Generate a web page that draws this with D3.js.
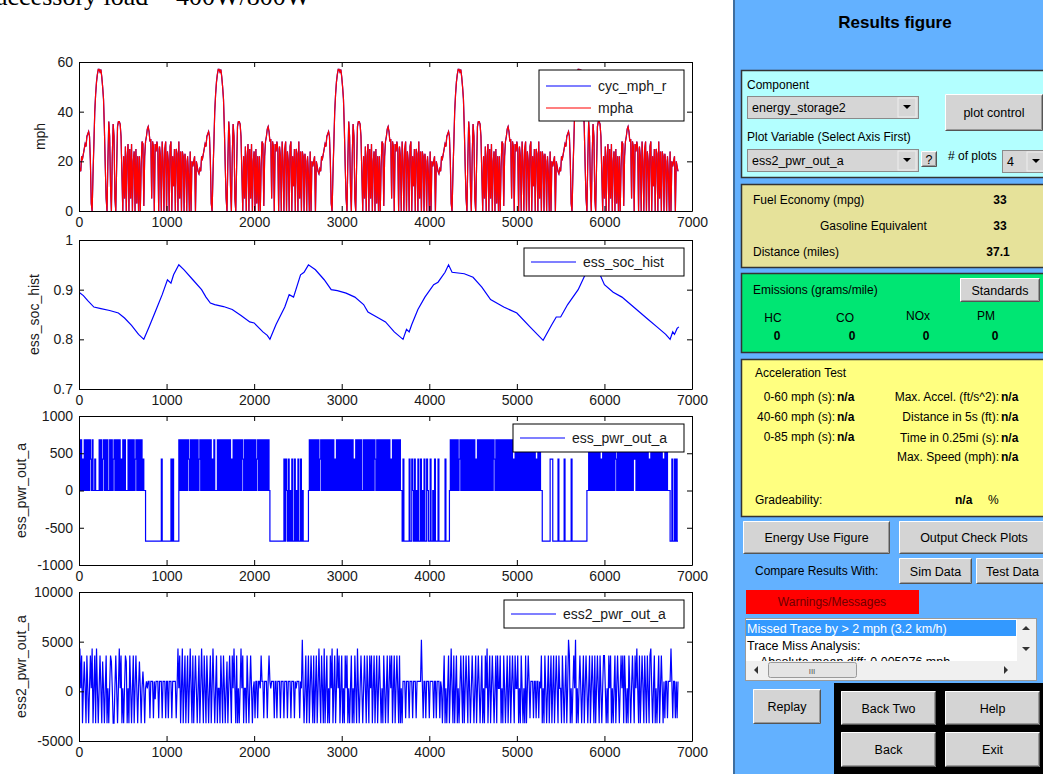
<!DOCTYPE html>
<html>
<head>
<meta charset="utf-8">
<script src="https://cdn.jsdelivr.net/npm/d3@7"></script>
<style>
  body { margin: 0; background: #fff; }
  svg { display: block; font-family: "Liberation Sans", Arial, sans-serif; }
</style>
</head>
<body>
<svg id="fig" width="1043" height="774"></svg>
<script>
// ---------------- data ----------------
const xTicks = [0, 1000, 2000, 3000, 4000, 5000, 6000, 7000];
const mphTicks = [0, 20, 40, 60];
const socTicks = [0.7, 0.8, 0.9, 1];
const pwrTicks = [-1000, -500, 0, 500, 1000];
const pwr2Ticks = [-5000, 0, 5000, 10000];

// one UDDS pass, actual speed every 10 s (mph); the run drives it 5 times
const uddsMph = [
  15, 17, 16, 22, 21, 23, 25, 27, 26, 30,
  31, 32, 30, 20, 3, 0, 15, 27, 40, 47,
  52, 55, 57, 57, 56, 57, 54, 50, 45, 33,
  18, 5, 0, 20, 36, 30, 10, 0, 22, 35,
  30, 5, 0, 18, 34, 36, 36, 35, 30, 15,
  0, 22, 5, 26, 0, 22, 27, 0, 25, 5,
  27, 0, 20, 24, 0, 25, 3, 22, 0, 22,
  0, 18, 28, 27, 2, 22, 28, 30, 33, 34,
  32, 28, 29, 5, 28, 26, 0, 27, 24, 28,
  25, 0, 26, 22, 0, 28, 20, 0, 25, 28,
  0, 24, 20, 0, 26, 28, 0, 22, 10, 25,
  0, 25, 23, 0, 28, 5, 24, 0, 24, 22,
  0, 23, 20, 0, 22, 15, 0, 24, 0, 20,
  18, 20, 22, 0, 20, 18, 16
];
const cycleStarts = [0, 1370, 2740, 4110, 5480];

// state of charge [time s, soc]
const socPoints = [
  [0,0.895],[50,0.888],[100,0.878],[170,0.865],[250,0.862],[350,0.858],[450,0.853],
  [520,0.843],[600,0.828],[680,0.81],[740,0.8],[800,0.825],[870,0.855],[950,0.89],
  [1010,0.92],[1050,0.913],[1080,0.93],[1140,0.95],[1200,0.94],[1300,0.92],[1400,0.9],
  [1450,0.885],[1500,0.873],[1550,0.87],[1650,0.866],[1750,0.86],[1850,0.848],[1950,0.835],
  [2000,0.833],[2100,0.815],[2150,0.808],[2180,0.8],[2250,0.83],[2350,0.865],[2400,0.89],
  [2450,0.885],[2530,0.93],[2570,0.935],[2620,0.95],[2700,0.94],[2800,0.92],[2880,0.9],
  [2950,0.898],[3050,0.893],[3150,0.885],[3250,0.87],[3300,0.855],[3400,0.845],[3500,0.835],
  [3600,0.815],[3700,0.8],[3740,0.82],[3770,0.815],[3800,0.83],[3870,0.86],[3950,0.885],
  [4050,0.91],[4100,0.915],[4180,0.935],[4220,0.95],[4260,0.935],[4400,0.932],[4500,0.925],
  [4600,0.905],[4700,0.88],[4850,0.865],[5000,0.853],[5150,0.825],[5300,0.798],[5400,0.83],
  [5450,0.845],[5500,0.845],[5580,0.87],[5620,0.88],[5700,0.9],[5780,0.93],[5850,0.95],
  [5950,0.93],[6000,0.91],[6100,0.895],[6200,0.885],[6300,0.87],[6400,0.855],[6500,0.84],
  [6600,0.825],[6700,0.81],[6750,0.8],[6780,0.815],[6800,0.81],[6830,0.822],[6850,0.825]
];

// ess_pwr_out_a: one code per 10 s, one string per 100 s
const essPwrLevels = { H: 680, M: 420, Z: 0, N: -680 };
const essPwrChunks = [
  "HZHZMZHZHZ","HZHMZHZZMZ","ZZZHZHZMHZ","HZHZZHZHZM","HZHZHZHZMZ","HZHZZZHZHZ","HZHZMHZHZH","ZHZMZZNNNN","NNNNNNNNNN","NNNNMNNNNN",
  "NNNNNMNMNN","NNNNHZHZHZ","HZHZHMZHZH","ZHZHZHZMHZ","HZHZHZHZHZ","HZMZHZZZHZ","HZHZHZHZHZ","HZHZMZHZHZ","HZHZHZHMZH","ZHZHZHZHZH",
  "ZHZMHZHZHZ","HZHZHZHZNN","NNNNNNNNNN","NNNNMNMZNM","NZNMNNMNZN","MNNMNZNNNN","NNZHZHZHZH","ZHZHZMHZHZ","HZHZHZHZHZ","HZMZHZHZHZ",
  "HZHZHZHZHZ","HZHZMZHZHZ","HZHZZHZHZH","ZHZHZHZHMZ","HZHZHZHZHZ","HZHZHZMZHZ","HZHZHZHZZN","MNNNNNNMNN","MZNMNZNMNN","MNZNMNNMZN",
  "NMNNZNMNNN","MNNNNNNNMN","NNNZHZHZHZ","HZHZMHZHZH","ZHZHZHZHZH","ZHZMZHZHZH","ZHZHZHZHZH","ZHZHMZHZHZ","HZHZHZHZHZ","HZHZHZMZHZ",
  "HZHZHZHZHZ","HZHZHZHZHZ","HZMZHZHZZN","NNNNNNNNMM","MNNNNNNMNN","NNNNMNNNNN","NNMNNNNNNN","NNNNNNNNNN","ZZHZHZHZHZ","HZHZHZMZHZ",
  "HZHZHZHZHZ","HZHMZHZHZH","ZHZHZHZHZH","ZHZHMHZHZH","ZHZHZHZHZH","ZMZHZHZHZH","ZHZHZHZMZH","ZHZZZNNMNN","MNMNN"
];

// ess2_pwr_out_a: one code per 10 s, one string per 100 s
const ess2Levels = { a: -3200, b: -2700, d: -800, e: 300, f: 1000, g: 2000, h: 3000, i: 3600, j: 4300, k: 5200 };
const ess2Chunks = [
  "fjeiaeheai","eaeiejaeia","jeaeieahea","eiaeaeihea","aeieaejeia","eaeihaeaie","aeiaeieaeh","eaegeaefef","fbfffbfdff","fbfffbfffb",
  "ffbfffbfff","fbejeiaeja","eiaeiaejea","iaeieaeiae","jeaieaieae","iaejeaeiae","eaieaieaeh","aeieaiejea","iaeaejeiae","eaieaeieae",
  "fbffbffeif","fbfffbfife","fffbffbfff","bfffbfffbf","ffbfffbfef","ffbfekeaei","aeiaeieaia","eiaejeaiea","jaeiaeaiej","aeiaejeiae",
  "iaeaieiaea","eiaeaieaje","aeieaeieai","eaieiaeiae","iaeieaeaie","aeiaeieiae","iaeieaiaea","fffbfffbff","fbfffbffff","fkfbffbfff",
  "bffffbffbf","ffbfeaeiae","aeiaejeaia","eiaeaeieai","aeieaieaei","eaeiaeieae","iaeaiejaei","aeieaeiaie","eiaeaieaei","aeiaeieaie",
  "eiaeaieaea","iaeifbfffb","ffbffbfeia","eaieaeiaei","aeiaeieaie","eaieaeiaek","iaeaeiekae","aeieaeiaei","eaeiaeieai","aeieaieaei",
  "ieaeaieiae","aeiaeieaei","eiaieaeaie","aeieaiejea","iaeieaieai","eaijeaeiae","aeiaeieafb","ffbfffjfbf","fbfbf"
];

// ---------------- series ----------------
const mpha = cycleStarts.flatMap(s => uddsMph.map((v, i) => ({ t: s + i * 10, v })));
const cycMph = mpha;
const soc = socPoints.map(([t, v]) => ({ t, v }));
const essPwr = essPwrChunks.flatMap((c, k) => c.split('').map((ch, i) => ({ t: k * 100 + i * 10, v: essPwrLevels[ch] })));
const ess2Pwr = ess2Chunks.flatMap((c, k) => c.split('').map((ch, i) => ({ t: k * 100 + i * 10, v: ess2Levels[ch] })));

// ---------------- plots ----------------
const fig = d3.select('#fig');
const x = d3.scaleLinear().domain([0, 7000]).range([79, 692]);
const axH = 149;

// top line of page text (cut off by the screenshot edge)
fig.append('text').attr('x', -4).attr('y', 5)
  .style('font-family', '"Liberation Serif", "Times New Roman", serif')
  .style('font-size', '26px').attr('fill', '#000')
  .text('accessory load = 400W/800W');

const panels = [
  { id: 1, top: 62, domain: [0, 60], ticks: mphTicks, label: 'mph', labelX: 45,
    series: [{ data: cycMph, color: '#0000ff' }, { data: mpha, color: '#ff0000' }],
    legend: { w: 145, items: [{ label: 'cyc_mph_r', color: '#0000ff' }, { label: 'mpha', color: '#ff0000' }] } },
  { id: 2, top: 240, domain: [0.7, 1], ticks: socTicks, label: 'ess_soc_hist', labelX: 39,
    series: [{ data: soc, color: '#0000ff' }],
    legend: { w: 160, items: [{ label: 'ess_soc_hist', color: '#0000ff' }] } },
  { id: 3, top: 416, domain: [-1000, 1000], ticks: pwrTicks, label: 'ess_pwr_out_a', labelX: 26,
    series: [{ data: essPwr, color: '#0000ff', curve: d3.curveStepAfter }],
    legend: { w: 171, items: [{ label: 'ess_pwr_out_a', color: '#0000ff' }] } },
  { id: 4, top: 592, domain: [-5000, 10000], ticks: pwr2Ticks, label: 'ess2_pwr_out_a', labelX: 26,
    series: [{ data: ess2Pwr, color: '#0000ff' }],
    legend: { w: 180, items: [{ label: 'ess2_pwr_out_a', color: '#0000ff' }] } }
];

function styleAxis(g) {
  g.attr('font-size', 14).attr('font-family', '"Liberation Sans", Arial, sans-serif');
  g.select('.domain').attr('stroke', '#000');
  g.selectAll('.tick line').attr('stroke', '#000');
  g.selectAll('.tick text').attr('fill', '#1a1a1a');
}

panels.forEach(p => {
  const bottom = p.top + axH;
  const y = d3.scaleLinear().domain(p.domain).range([bottom, p.top]);
  const g = fig.append('g');

  g.append('clipPath').attr('id', 'clip' + p.id)
    .append('rect').attr('x', 79).attr('y', p.top).attr('width', 613).attr('height', axH);

  p.series.forEach(s => {
    const line = d3.line().x(d => x(d.t)).y(d => y(d.v)).curve(s.curve || d3.curveLinear);
    g.append('path').datum(s.data)
      .attr('d', line)
      .attr('fill', 'none')
      .attr('stroke', s.color)
      .attr('stroke-width', 1.2)
      .attr('clip-path', `url(#clip${p.id})`);
  });

  // axes, ticks inward on all four sides
  g.append('g').attr('transform', `translate(0,${bottom})`)
    .call(d3.axisBottom(x).tickValues(xTicks).tickSizeInner(-5).tickSizeOuter(0).tickPadding(6).tickFormat(d => String(d)))
    .call(styleAxis);
  g.append('g').attr('transform', `translate(0,${p.top})`)
    .call(d3.axisTop(x).tickValues(xTicks).tickSizeInner(-5).tickSizeOuter(0).tickFormat(''))
    .call(styleAxis);
  g.append('g').attr('transform', 'translate(79,0)')
    .call(d3.axisLeft(y).tickValues(p.ticks).tickSizeInner(-5).tickSizeOuter(0).tickPadding(6).tickFormat(d => String(d)))
    .call(styleAxis);
  g.append('g').attr('transform', 'translate(692,0)')
    .call(d3.axisRight(y).tickValues(p.ticks).tickSizeInner(-5).tickSizeOuter(0).tickFormat(''))
    .call(styleAxis);

  // y label
  g.append('text')
    .attr('transform', `translate(${p.labelX},${p.top + axH / 2}) rotate(-90)`)
    .attr('text-anchor', 'middle').attr('font-size', 14).attr('fill', '#1a1a1a')
    .text(p.label);

  // legend
  const lg = p.legend;
  const lx = 684 - lg.w, ly = p.top + 8;
  const lh = lg.items.length === 2 ? 51 : 28;
  g.append('rect').attr('x', lx).attr('y', ly).attr('width', lg.w).attr('height', lh)
    .attr('fill', '#fff').attr('stroke', '#000').attr('stroke-width', 1);
  lg.items.forEach((it, i) => {
    const cy = lg.items.length === 2 ? ly + 16 + i * 22 : ly + 14;
    g.append('line').attr('x1', lx + 7).attr('x2', lx + 52).attr('y1', cy).attr('y2', cy)
      .attr('stroke', it.color).attr('stroke-width', 1.2);
    g.append('text').attr('x', lx + 59).attr('y', cy + 5).attr('font-size', 14).attr('fill', '#1a1a1a').text(it.label);
  });
});

// ---------------- right hand GUI panel ----------------
const ui = fig.append('g').attr('font-size', 12);

ui.append('rect').attr('x', 733).attr('y', 0).attr('width', 310).attr('height', 774).attr('fill', '#63b1ff');
ui.append('rect').attr('x', 733).attr('y', 0).attr('width', 2).attr('height', 774).attr('fill', '#3f6e9e');

function txt(xp, yp, s, o = {}) {
  return ui.append('text').attr('x', xp).attr('y', yp)
    .attr('text-anchor', o.anchor || 'start')
    .attr('font-weight', o.bold ? 'bold' : 'normal')
    .attr('font-size', o.size || 12)
    .attr('fill', o.fill || '#000')
    .text(s);
}

function button(bx, by, w, h, label) {
  ui.append('rect').attr('x', bx).attr('y', by).attr('width', w).attr('height', h).attr('fill', '#d4d4d4');
  ui.append('path').attr('d', `M${bx + 0.5},${by + h - 0.5}V${by + 0.5}H${bx + w - 0.5}`).attr('fill', 'none').attr('stroke', '#fff');
  ui.append('path').attr('d', `M${bx + 0.5},${by + h - 0.5}H${bx + w - 0.5}V${by + 0.5}`).attr('fill', 'none').attr('stroke', '#555');
  ui.append('path').attr('d', `M${bx + 1.5},${by + h - 1.5}H${bx + w - 1.5}V${by + 1.5}`).attr('fill', 'none').attr('stroke', '#999');
  txt(bx + w / 2, by + h / 2 + 4.5, label, { anchor: 'middle', size: 12.5 });
}

function dropdown(dx, dy, w, h, label) {
  ui.append('rect').attr('x', dx + 0.5).attr('y', dy + 0.5).attr('width', w).attr('height', h)
    .attr('fill', '#d6d6d6').attr('stroke', '#8a8a8a');
  ui.append('rect').attr('x', dx + w - 20).attr('y', dy + 2).attr('width', 18).attr('height', h - 3)
    .attr('fill', '#d6d6d6').attr('stroke', '#eee');
  const ax = dx + w - 11, ay = dy + h / 2;
  ui.append('path').attr('d', `M${ax - 4},${ay - 2}L${ax + 4},${ay - 2}L${ax},${ay + 2}Z`).attr('fill', '#000');
  txt(dx + 5, dy + h / 2 + 4.5, label, { size: 12.5 });
}

txt(895, 28, 'Results figure', { anchor: 'middle', bold: true, size: 17 });

// component box
ui.append('rect').attr('x', 741.5).attr('y', 70.5).attr('width', 310).attr('height', 107)
  .attr('fill', '#b3ffff').attr('stroke', '#333').attr('stroke-width', 1.5);
txt(747, 89, 'Component');
dropdown(747, 96, 171, 22, 'energy_storage2');
button(945, 94, 98, 37, 'plot control');
txt(747, 141, 'Plot Variable (Select Axis First)');
dropdown(747, 149, 171, 22, 'ess2_pwr_out_a');
button(921, 151, 16, 16, '?');
txt(948, 160, '# of plots');
dropdown(1002, 150, 45, 22, '4');

// fuel economy box
ui.append('rect').attr('x', 741.5).attr('y', 184.5).attr('width', 310).attr('height', 83)
  .attr('fill', '#e6e29a').attr('stroke', '#333').attr('stroke-width', 1.5);
txt(753, 204, 'Fuel Economy (mpg)');
txt(1000, 204, '33', { anchor: 'middle', bold: true });
txt(820, 230, 'Gasoline Equivalent');
txt(1000, 230, '33', { anchor: 'middle', bold: true });
txt(753, 256, 'Distance (miles)');
txt(998, 256, '37.1', { anchor: 'middle', bold: true });

// emissions box
ui.append('rect').attr('x', 741.5).attr('y', 273.5).attr('width', 310).attr('height', 79)
  .attr('fill', '#00e673').attr('stroke', '#333').attr('stroke-width', 1.5);
txt(753, 294, 'Emissions (grams/mile)');
button(960, 278, 80, 24, 'Standards');
txt(773, 322, 'HC', { anchor: 'middle' });
txt(845, 322, 'CO', { anchor: 'middle' });
txt(918, 320, 'NOx', { anchor: 'middle' });
txt(986, 320, 'PM', { anchor: 'middle' });
[777, 852, 926, 995].forEach(zx => txt(zx, 340, '0', { anchor: 'middle', bold: true }));

// acceleration box
ui.append('rect').attr('x', 741.5).attr('y', 359.5).attr('width', 310).attr('height', 157)
  .attr('fill', '#ffff80').attr('stroke', '#333').attr('stroke-width', 1.5);
txt(755, 377, 'Acceleration Test');
[['0-60 mph (s):', 401], ['40-60 mph (s):', 421], ['0-85 mph (s):', 441]].forEach(([s, yy]) => {
  txt(835, yy, s, { anchor: 'end' });
  txt(837, yy, 'n/a', { bold: true });
});
[['Max. Accel. (ft/s^2):', 401], ['Distance in 5s (ft):', 421], ['Time in 0.25mi (s):', 442], ['Max. Speed (mph):', 461]].forEach(([s, yy]) => {
  txt(999, yy, s, { anchor: 'end' });
  txt(1001, yy, 'n/a', { bold: true });
});
txt(755, 504, 'Gradeability:');
txt(955, 504, 'n/a', { bold: true });
txt(988, 504, '%');

// buttons row
button(743, 521, 147, 33, 'Energy Use Figure');
button(899, 521, 150, 33, 'Output Check Plots');
txt(755, 575, 'Compare Results With:');
button(899, 558, 73, 26, 'Sim Data');
button(976, 558, 73, 26, 'Test Data');

// warnings
ui.append('rect').attr('x', 746).attr('y', 590).attr('width', 173).attr('height', 24).attr('fill', '#ff0000');
txt(832, 606, 'Warnings/Messages', { anchor: 'middle', fill: '#700000' });

// message list
ui.append('rect').attr('x', 745.5).attr('y', 618.5).attr('width', 291).attr('height', 62)
  .attr('fill', '#fff').attr('stroke', '#9a9a9a');
ui.append('rect').attr('x', 746).attr('y', 620).attr('width', 270).attr('height', 16).attr('fill', '#3399ff');
txt(747, 633, 'Missed Trace by > 2 mph (3.2 km/h)', { fill: '#fff', size: 12.5 });
txt(747, 650, 'Trace Miss Analysis:', { size: 12.5 });
ui.append('clipPath').attr('id', 'listclip').append('rect').attr('x', 746).attr('y', 652).attr('width', 270).attr('height', 9);
txt(760, 666, 'Absolute mean diff:          0.005976 mph', { size: 12.5 }).attr('clip-path', 'url(#listclip)');
// vertical scrollbar
ui.append('rect').attr('x', 1017).attr('y', 619).attr('width', 19).attr('height', 42).attr('fill', '#f0f0f0');
ui.append('path').attr('d', 'M1022,630L1030,630L1026,626Z').attr('fill', '#333');
ui.append('path').attr('d', 'M1022,647L1030,647L1026,651Z').attr('fill', '#333');
// horizontal scrollbar
ui.append('rect').attr('x', 746).attr('y', 661).attr('width', 290).attr('height', 19).attr('fill', '#f0f0f0');
ui.append('path').attr('d', 'M758,666L758,674L754,670Z').attr('fill', '#333');
ui.append('path').attr('d', 'M1004,666L1004,674L1008,670Z').attr('fill', '#333');
ui.append('rect').attr('x', 768.5).attr('y', 662.5).attr('width', 88).attr('height', 15).attr('rx', 2)
  .attr('fill', '#e4e4e4').attr('stroke', '#9a9a9a');
txt(812, 674, 'III', { anchor: 'middle', size: 8, fill: '#555' });

// bottom buttons
button(753, 689, 68, 35, 'Replay');
ui.append('rect').attr('x', 834).attr('y', 683).attr('width', 215).attr('height', 95).attr('fill', '#000');
button(841, 691, 95, 34, 'Back Two');
button(945, 691, 95, 34, 'Help');
button(841, 732, 95, 35, 'Back');
button(945, 732, 95, 35, 'Exit');
</script>
</body>
</html>
